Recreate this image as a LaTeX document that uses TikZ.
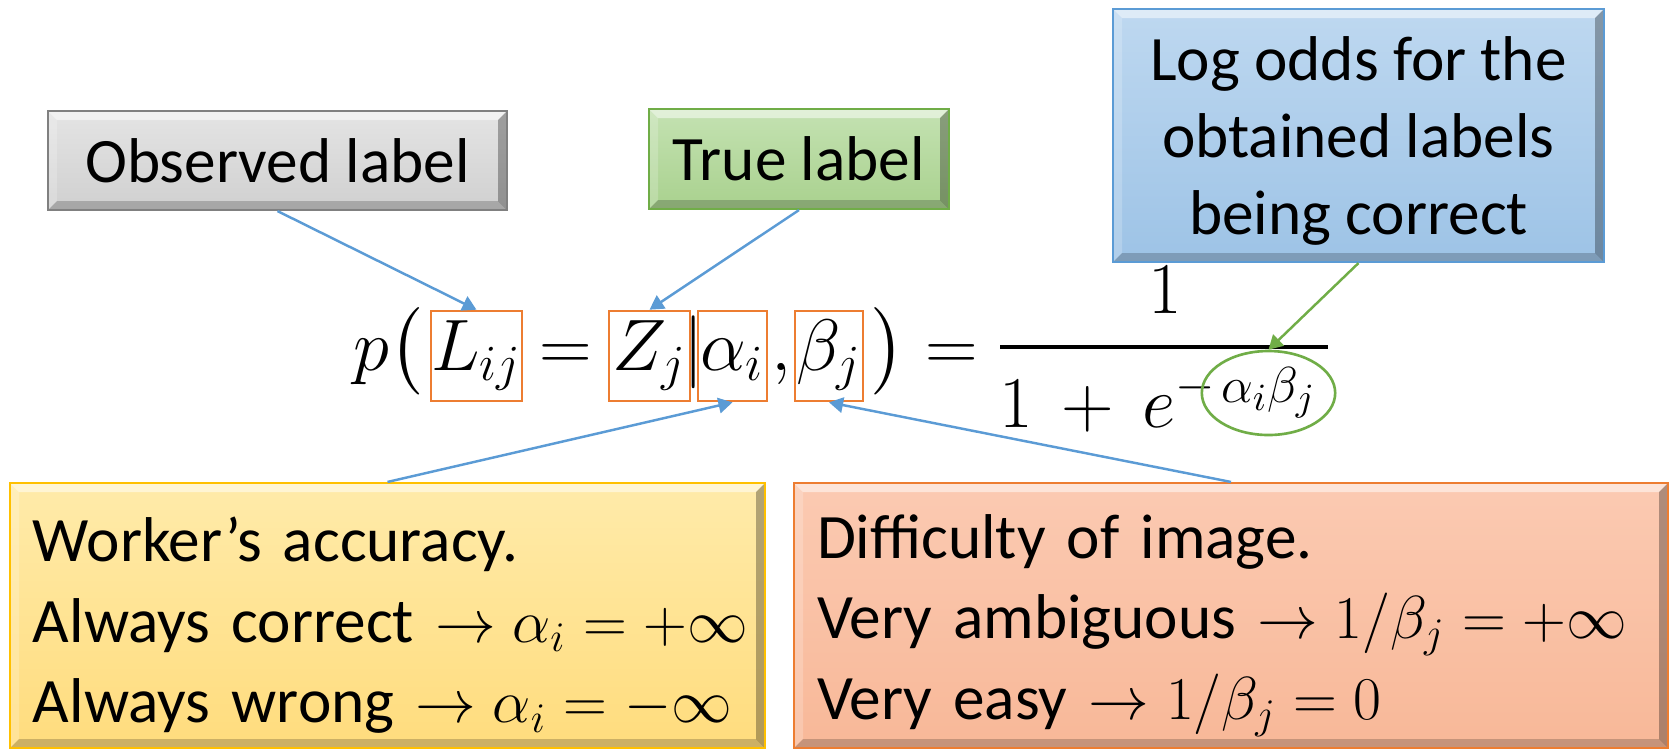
\documentclass[tikz,border=0pt]{standalone}
\usepackage{amsmath}
\usepackage{fontspec}
\setmainfont{Carlito}
\definecolor{obsfill}{RGB}{208,208,208}
\definecolor{obstop}{RGB}{228,228,228}
\definecolor{obsedge}{RGB}{128,128,128}
\definecolor{truefill}{RGB}{169,209,142}
\definecolor{truetop}{RGB}{196,226,178}
\definecolor{trueedge}{RGB}{112,173,71}
\definecolor{oddsfill}{RGB}{157,195,230}
\definecolor{oddstop}{RGB}{190,216,240}
\definecolor{oddsedge}{RGB}{91,155,213}
\definecolor{workfill}{RGB}{255,220,125}
\definecolor{worktop}{RGB}{255,235,170}
\definecolor{workedge}{RGB}{255,192,0}
\definecolor{difffill}{RGB}{248,184,152}
\definecolor{difftop}{RGB}{251,202,178}
\definecolor{diffedge}{RGB}{237,125,49}
\definecolor{arrowblue}{RGB}{91,155,213}
\definecolor{markorange}{RGB}{237,125,49}
\definecolor{markgreen}{RGB}{112,173,71}
\usetikzlibrary{arrows.meta,positioning,shapes.geometric}

\newcommand{\labelfont}{\fontsize{18}{22}\selectfont}
\newcommand{\notefont}{\fontsize{18}{23}\selectfont}
\newcommand{\eqfont}{\fontsize{20.8}{25}\selectfont}

\tikzset{
  bevel/.style={path picture={
    \coordinate (bnw) at (path picture bounding box.north west);
    \coordinate (bne) at (path picture bounding box.north east);
    \coordinate (bsw) at (path picture bounding box.south west);
    \coordinate (bse) at (path picture bounding box.south east);
    \fill[white, opacity=0.5] (bnw) -- (bne) -- ([shift={(-0.09,-0.09)}]bne) -- ([shift={(0.09,-0.09)}]bnw) -- cycle;
    \fill[white, opacity=0.2] (bnw) -- (bsw) -- ([shift={(0.09,0.09)}]bsw) -- ([shift={(0.09,-0.09)}]bnw) -- cycle;
    \fill[black, opacity=0.3] (bse) -- (bne) -- ([shift={(-0.09,-0.09)}]bne) -- ([shift={(-0.09,0.09)}]bse) -- cycle;
    \fill[black, opacity=0.2] (bse) -- (bsw) -- ([shift={(0.09,0.09)}]bsw) -- ([shift={(-0.09,0.09)}]bse) -- cycle;
  }},
  labelbox/.style={bevel, line width=0.6pt, inner sep=0pt, align=center, font=\labelfont},
  notebox/.style={labelbox, minimum height=2.65cm, inner xsep=0.23cm, align=left, font=\notefont},
  eqbox/.style={draw=markorange, line width=0.75pt, inner sep=0pt, text height=0.59cm, text depth=0.31cm, anchor=base, font=\eqfont},
  eqtext/.style={inner sep=0pt, anchor=base, font=\eqfont},
  pointer/.style={-{Triangle[length=4pt,width=4.4pt]}, line width=0.7pt, color=arrowblue},
}

\begin{document}
\begin{tikzpicture}
  \useasboundingbox (0,0) rectangle (16.71,7.49);

  % Label boxes on top
  \node[labelbox, draw=obsedge, top color=obstop, bottom color=obsfill, minimum width=4.59cm, minimum height=0.99cm] (obs) at (2.775,5.885) {Observed label};
  \node[labelbox, draw=trueedge, top color=truetop, bottom color=truefill, minimum width=3.00cm, minimum height=1.00cm] (truth) at (7.99,5.90) {True label};
  \node[labelbox, draw=oddsedge, top color=oddstop, bottom color=oddsfill, minimum width=4.91cm, minimum height=2.53cm] (logodds) at (13.585,6.135) {\rule{0pt}{0.55cm}Log odds for the\\obtained labels\\being correct};

  % Label boxes at the bottom
  \node[notebox, draw=workedge, top color=worktop, bottom color=workfill, text width=7.09cm] (worker) at (3.875,1.335) {\rule{0pt}{0.64cm}Worker’s accuracy.\\\mbox{Always correct $\rightarrow \alpha_i = +\infty$}\\\mbox{Always wrong $\rightarrow \alpha_i = -\infty$}};
  \node[notebox, draw=diffedge, top color=difftop, bottom color=difffill, text width=8.28cm] (difficulty) at (12.31,1.335) {\rule{0pt}{0.64cm}Difficulty of image.\\\mbox{Very ambiguous $\rightarrow 1/\beta_j = +\infty$}\\\mbox{Very easy $\rightarrow 1/\beta_j = 0$}};

  % Equation, left-hand side
  \node[eqtext] (given) at (6.94,3.79) {$|$};
  \node[eqbox, minimum width=0.91cm] (lij) at (4.765,3.79) {$L_{ij}$};
  \node[eqtext, base left=0.06cm of lij] (pfun) {$p\bigl($};
  \node[eqtext] (eqa) at (5.655,3.79) {$=$};
  \node[eqbox, minimum width=0.81cm] (zj) at (6.495,3.79) {$Z_j$};
  \node[eqbox, minimum width=0.69cm] (ai) at (7.325,3.79) {$\alpha_i$};
  \node[eqtext] (comma) at (7.81,3.79) {$,$};
  \node[eqbox, minimum width=0.68cm] (bj) at (8.29,3.79) {$\beta_j$};
  \node[eqtext, base right=0.06cm of bj] (rpar) {$\bigr)$};
  \node[eqtext] (eqb) at (9.515,3.79) {$=$};

  % Equation, fraction
  \coordinate (barl) at (10.00,4.02);
  \coordinate (barr) at (13.28,4.02);
  \draw[line width=1.2pt] (barl) -- (barr);
  \node[eqtext] (num) at (11.65,4.36) {$1$};
  \node[eqtext, anchor=base west] (den) at (9.99,3.22) {$1\,+\,e^{-}$};
  \node[ellipse, draw=markgreen, line width=0.75pt, inner sep=0pt, minimum width=1.17cm, minimum height=0.84cm, font=\fontsize{15}{18}\selectfont] (expo) at (12.685,3.56) {$\alpha_i\beta_j$};

  % Pointers
  \draw[pointer] (obs.south) -- (lij.north);
  \draw[pointer] (truth.south) -- (zj.north);
  \draw[pointer, color=markgreen] (logodds.south) -- (expo.north);
  \draw[pointer] (worker.north) -- (ai.south);
  \draw[pointer] (difficulty.north) -- (bj.south);
\end{tikzpicture}
\end{document}
